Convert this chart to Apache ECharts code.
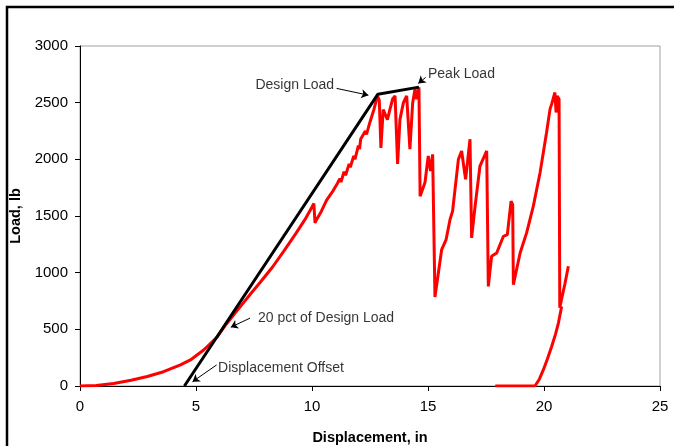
<!DOCTYPE html>
<html><head><meta charset="utf-8">
<script src="https://cdn.jsdelivr.net/npm/echarts@6/dist/echarts.min.js"></script>
<style>html,body{margin:0;padding:0;background:#fff}#c{width:674px;height:446px}</style>
</head><body><div id="c"></div>
<script>
// Main load-displacement trace
const loadX = [0,0.7,1.45,2.2,2.9,3.6,4.33,4.76,5.33,5.9,6.3,6.77,7.34,7.77,8.3,8.8,9.3,9.7,10.0,10.08,10.13,10.2,10.4,10.63,10.9,11.1,11.2,11.25,11.38,11.45,11.6,11.65,11.8,11.85,12.0,12.05,12.1,12.3,12.35,12.5,12.67,12.82,12.9,12.97,13.07,13.15,13.25,13.36,13.47,13.58,13.69,13.79,13.94,14.08,14.15,14.22,14.34,14.44,14.51,14.61,14.66,14.73,14.87,15.01,15.11,15.2,15.3,15.59,15.78,15.95,16.06,16.31,16.45,16.55,16.62,16.7,16.81,16.88,17.03,17.24,17.53,17.6,17.74,17.96,18.25,18.42,18.58,18.65,18.68,18.97,19.25,19.54,19.83,20.11,20.26,20.33,20.4,20.47,20.52,20.57,20.65,20.68,20.75,20.9,21.05];
const loadY = [0,5,22,50,84,126,186,230,318,430,545,665,810,915,1050,1195,1345,1470,1580,1610,1440,1470,1540,1640,1720,1790,1830,1800,1890,1860,1960,1930,2030,2000,2120,2090,2180,2250,2220,2330,2440,2560,2520,2100,2440,2400,2350,2440,2530,2560,1960,2350,2500,2560,2560,2090,2500,2620,2530,2635,1675,1675,1796,2029,1897,2044,785,1204,1292,1469,1543,2000,2074,1926,1823,1970,2177,1307,1587,1941,2074,879,1144,1174,1321,1336,1631,1600,894,1174,1351,1587,1882,2236,2443,2487,2470,2590,2413,2560,2531,690,760,900,1056];
// Reload trace
const reloadX = [17.9,19.0,19.61,19.8,19.97,20.15,20.33,20.5,20.62,20.76];
const reloadY = [0,0,0,60,142,240,348,460,555,702];
// Offset / design / peak construction line
const constructX = [4.5,12.84,14.61];
const constructY = [0,2575,2637];
// Annotations
const annText = ["Design Load","Peak Load","20 pct of Design Load","Displacement Offset"];
const annX = [10.95,15.0,7.67,5.95];
const annY = [2655,2752,602,159];
const annPos = ["left","right","right","right"];
const arrowFromX = [11.06,14.9,7.33,5.89];
const arrowFromY = [2626,2723,599,186];
const arrowToX = [12.43,14.58,6.5,4.85];
const arrowToY = [2566,2670,519,38];
const xTicks = [0,5,10,15,20,25];
const yTicks = [0,500,1000,1500,2000,2500,3000];

const zip = (a,b)=>a.map((v,i)=>[v,b[i]]);
const font = 'Liberation Sans, Arial, sans-serif';
const chart = echarts.init(document.getElementById('c'), null, {renderer:'canvas'});
chart.setOption({
  animation:false,
  backgroundColor:'#fff',
  graphic:[{type:'rect',shape:{x:7,y:7,width:720,height:520},style:{fill:'none',stroke:'#000',lineWidth:2.5},z:100}],
  grid:{left:80,right:14,top:46,bottom:60,show:true,borderColor:'#a0a0a0',borderWidth:1,backgroundColor:'transparent',
    containLabel:false,outerBoundsMode:'none'},
  xAxis:{type:'value',min:xTicks[0],max:xTicks[xTicks.length-1],interval:5,
    name:'Displacement, in',nameLocation:'middle',nameGap:44,
    nameTextStyle:{fontFamily:font,fontWeight:'bold',fontSize:14.5,color:'#000'},
    axisLine:{lineStyle:{color:'#000',width:1}},
    axisTick:{show:true,inside:false,length:5,lineStyle:{color:'#000'}},
    axisLabel:{margin:13,fontFamily:font,fontSize:15,color:'#000',formatter:v=>String(v)},
    splitLine:{show:false}},
  yAxis:{type:'value',min:yTicks[0],max:yTicks[yTicks.length-1],interval:500,
    name:'Load, lb',nameLocation:'middle',nameGap:55,
    nameTextStyle:{fontFamily:font,fontWeight:'bold',fontSize:14.5,color:'#000'},
    axisLine:{show:true,lineStyle:{color:'#000',width:1}},
    axisTick:{show:true,inside:false,length:5,lineStyle:{color:'#000'}},
    axisLabel:{margin:12,fontFamily:font,fontSize:15,color:'#000',formatter:v=>String(v)},
    splitLine:{show:false}},
  series:[
    {type:'line',data:zip(reloadX,reloadY),showSymbol:false,symbol:'none',lineStyle:{color:'#ff0000',width:3},z:3},
    {type:'line',data:zip(loadX,loadY),showSymbol:false,symbol:'none',lineStyle:{color:'#ff0000',width:3},z:3},
    {type:'line',data:zip(constructX,constructY),showSymbol:false,symbol:'none',lineStyle:{color:'#000',width:3},z:4,
      markLine:{silent:true,symbol:['none','arrow'],symbolSize:7,
        lineStyle:{color:'#000',width:1,type:'solid'},label:{show:false},
        data:arrowFromX.map((v,i)=>[{coord:[v,arrowFromY[i]]},{coord:[arrowToX[i],arrowToY[i]]}])}},
    {type:'scatter',symbolSize:0,silent:true,z:5,
      data:annText.map((t,i)=>({value:[annX[i],annY[i]],name:t,
        label:{show:true,position:annPos[i],distance:0,formatter:t,fontFamily:font,fontSize:14,color:'#000'}}))}
  ]
});
</script></body></html>
